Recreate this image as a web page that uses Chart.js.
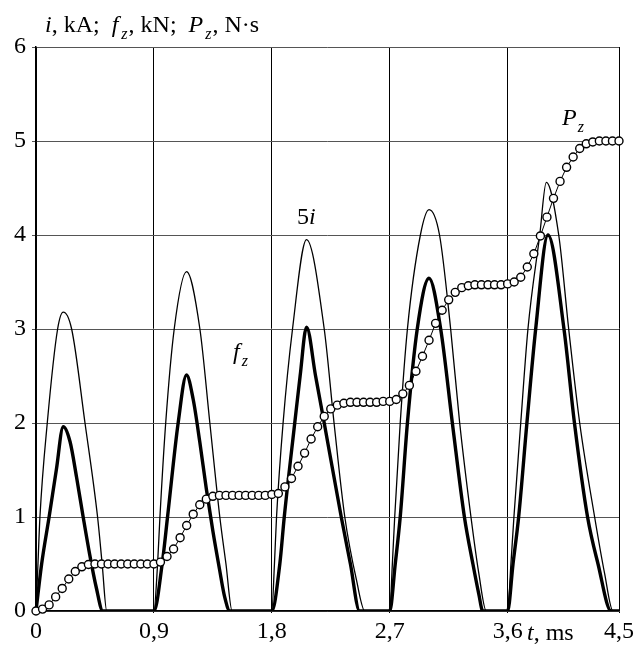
<!DOCTYPE html>
<html>
<head>
<meta charset="utf-8">
<script src="https://cdn.jsdelivr.net/npm/chart.js@4/dist/chart.umd.min.js"></script>
<style>
  body { margin: 0; background: #fff; }
  canvas { display: block; }
</style>
</head>
<body>
<canvas id="pulse-chart" width="641" height="648"></canvas>
<script>
// x axis ticks (ms)
const tTicks = [0, 0.9, 1.8, 2.7, 3.6, 4.45];
const tTickLabels = ["0", "0,9", "1,8", "2,7", "3,6", "4,5"];

// 5i, thin line
const iTime = [
    0, 0.015, 0.03, 0.086, 0.165, 0.208, 0.272, 0.374, 0.47, 0.505, 0.54,
    0.9, 0.928, 0.946, 0.99, 1.055, 1.149, 1.251, 1.327, 1.403, 1.45, 1.497,
    1.8, 1.82, 1.836, 1.886, 1.958, 2.065, 2.2, 2.275, 2.357, 2.446, 2.51,
    2.7, 2.72, 2.738, 2.78, 2.835, 2.934, 3.0, 3.08, 3.165, 3.234, 3.32, 3.38, 3.437,
    3.6, 3.625, 3.648, 3.7, 3.755, 3.845, 3.895, 3.99, 4.066, 4.15, 4.264, 4.34, 4.404, 4.45
];
const iValues = [
    0, 0.5, 1.0, 2.0, 3.0, 3.18, 3.0, 2.0, 1.0, 0.5, 0,
    0, 0.5, 1.0, 2.0, 3.0, 3.61, 3.0, 2.0, 1.0, 0.5, 0,
    0, 0.5, 1.0, 2.0, 3.0, 3.95, 3.0, 2.0, 1.0, 0.33, 0,
    0, 0.5, 1.0, 2.0, 3.0, 4.0, 4.27, 4.0, 3.0, 2.0, 1.0, 0.4, 0,
    0, 0.5, 1.0, 2.0, 3.0, 4.0, 4.56, 4.0, 3.0, 2.0, 1.0, 0.4, 0, 0
];

// f_z, thick line
const fTime = [
    0, 0.043, 0.1, 0.155, 0.208, 0.26, 0.31, 0.36, 0.41, 0.46, 0.51,
    0.9, 0.963, 1.004, 1.085, 1.149, 1.2, 1.25, 1.3, 1.35, 1.4, 1.44, 1.48,
    1.8, 1.861, 1.895, 1.975, 2.016, 2.065, 2.134, 2.2, 2.33, 2.4, 2.47,
    2.7, 2.742, 2.78, 2.835, 2.91, 3.0, 3.089, 3.178, 3.27, 3.335, 3.38, 3.41,
    3.6, 3.641, 3.684, 3.747, 3.814, 3.908, 4.03, 4.11, 4.21, 4.29, 4.39, 4.45
];
const fValues = [
    0, 0.5, 1.0, 1.5, 1.96, 1.8, 1.42, 1.0, 0.6, 0.25, 0,
    0, 0.5, 1.0, 2.0, 2.51, 2.25, 1.8, 1.3, 0.85, 0.45, 0.15, 0,
    0, 0.5, 1.0, 2.0, 2.5, 3.02, 2.5, 2.0, 1.0, 0.5, 0,
    0, 0.5, 1.0, 2.0, 3.0, 3.54, 3.0, 2.0, 1.0, 0.5, 0.18, 0,
    0, 0.5, 1.0, 2.0, 3.0, 4.0, 3.0, 2.0, 1.0, 0.5, 0, 0
];

// P_z, circles every 0.05 ms
const pTime = [
    0, 0.05, 0.1, 0.15, 0.2, 0.25, 0.3, 0.35, 0.4, 0.45,
    0.5, 0.55, 0.6, 0.65, 0.7, 0.75, 0.8, 0.85, 0.9, 0.95,
    1.0, 1.05, 1.1, 1.15, 1.2, 1.25, 1.3, 1.35, 1.4, 1.45,
    1.5, 1.55, 1.6, 1.65, 1.7, 1.75, 1.8, 1.85, 1.9, 1.95,
    2.0, 2.05, 2.1, 2.15, 2.2, 2.25, 2.3, 2.35, 2.4, 2.45,
    2.5, 2.55, 2.6, 2.65, 2.7, 2.75, 2.8, 2.85, 2.9, 2.95,
    3.0, 3.05, 3.1, 3.15, 3.2, 3.25, 3.3, 3.35, 3.4, 3.45,
    3.5, 3.55, 3.6, 3.65, 3.7, 3.75, 3.8, 3.85, 3.9, 3.95,
    4.0, 4.05, 4.1, 4.15, 4.2, 4.25, 4.3, 4.35, 4.4, 4.45
];
const pValues = [
    0, 0.02, 0.065, 0.15, 0.24, 0.34, 0.42, 0.47, 0.495, 0.5,
    0.5, 0.5, 0.5, 0.5, 0.5, 0.5, 0.5, 0.5, 0.5, 0.52,
    0.58, 0.66, 0.78, 0.91, 1.03, 1.13, 1.19, 1.22, 1.23, 1.23,
    1.23, 1.23, 1.23, 1.23, 1.23, 1.23, 1.24, 1.25, 1.32, 1.41,
    1.54, 1.68, 1.83, 1.96, 2.07, 2.15, 2.19, 2.21, 2.22, 2.22,
    2.22, 2.22, 2.22, 2.23, 2.23, 2.25, 2.31, 2.4, 2.55, 2.71,
    2.88, 3.06, 3.2, 3.31, 3.39, 3.44, 3.46, 3.47, 3.47, 3.47,
    3.47, 3.47, 3.48, 3.5, 3.55, 3.66, 3.8, 3.99, 4.19, 4.39,
    4.57, 4.72, 4.83, 4.92, 4.97, 4.99, 5.0, 5.0, 5.0, 5.0
];

const serif = "'Liberation Serif', 'Times New Roman', serif";
const textSize = 24;

function toPoints(xs, ys) {
    return xs.map((x, k) => ({ x: x, y: ys[k] }));
}

// draws a run of text pieces: {t, it, sub}
function richText(ctx, x, y, parts, size) {
    ctx.textBaseline = "alphabetic";
    ctx.textAlign = "left";
    parts.forEach(p => {
        const fs = p.sub ? Math.round(size * 0.66) : size;
        ctx.font = (p.it ? "italic " : "") + fs + "px " + serif;
        ctx.fillText(p.t, x, y + (p.sub ? size * 0.28 : 0));
        x += ctx.measureText(p.t).width + (p.gap || 0);
    });
}

const labelsPlugin = {
    id: "labels",
    afterDraw(chart) {
        const ctx = chart.ctx;
        ctx.save();
        ctx.fillStyle = "#000";
        richText(ctx, 45, 32, [
            { t: "i", it: true }, { t: ", kA;  " },
            { t: "f", it: true, gap: 3 }, { t: "z", it: true, sub: true, gap: 1 }, { t: ", kN;  " },
            { t: "P", it: true, gap: 2 }, { t: "z", it: true, sub: true, gap: 1 }, { t: ", N\u00b7s" }
        ], textSize);
        richText(ctx, 297, 224, [{ t: "5" }, { t: "i", it: true }], textSize);
        richText(ctx, 233, 359, [{ t: "f", it: true, gap: 2 }, { t: "z", it: true, sub: true }], textSize);
        richText(ctx, 562, 125, [{ t: "P", it: true, gap: 1 }, { t: "z", it: true, sub: true }], textSize);
        richText(ctx, 527, 640, [{ t: "t", it: true }, { t: ", ms" }], textSize);
        ctx.restore();
    }
};

new Chart(document.getElementById("pulse-chart").getContext("2d"), {
    type: "line",
    data: {
        datasets: [
            {
                label: "Pz",
                data: toPoints(pTime, pValues),
                borderColor: "#000",
                borderWidth: 1,
                pointRadius: 4,
                pointBackgroundColor: "#fff",
                pointBorderColor: "#000",
                pointBorderWidth: 1.4,
                tension: 0,
                clip: false
            },
            {
                label: "fz",
                data: toPoints(fTime, fValues),
                borderColor: "#000",
                borderWidth: 3.4,
                pointRadius: 0,
                cubicInterpolationMode: "monotone"
            },
            {
                label: "5i",
                data: toPoints(iTime, iValues),
                borderColor: "#000",
                borderWidth: 1.3,
                pointRadius: 0,
                cubicInterpolationMode: "monotone"
            }
        ]
    },
    options: {
        responsive: false,
        animation: false,
        devicePixelRatio: 1,
        layout: { padding: { top: 47, right: 22, left: 0, bottom: 0 } },
        plugins: { legend: { display: false }, tooltip: { enabled: false } },
        scales: {
            x: {
                type: "linear",
                min: 0,
                max: 4.45,
                afterBuildTicks: scale => { scale.ticks = tTicks.map(v => ({ value: v })); },
                afterFit: scale => { scale.height = 37; },
                ticks: {
                    autoSkip: false,
                    maxRotation: 0,
                    padding: 4,
                    color: "#000",
                    font: { family: serif, size: textSize },
                    callback: (value, index) => tTickLabels[index]
                },
                grid: { color: "#000", lineWidth: 1, tickLength: 2 },
                border: { color: "#000", width: 1.5 }
            },
            y: {
                min: 0,
                max: 6,
                afterFit: scale => { scale.width = 36; },
                ticks: {
                    stepSize: 1,
                    padding: 6,
                    color: "#000",
                    font: { family: serif, size: textSize }
                },
                grid: { color: "#555", lineWidth: 1, tickLength: 4 },
                border: { color: "#000", width: 1.5 }
            }
        }
    },
    plugins: [labelsPlugin]
});
</script>
</body>
</html>
